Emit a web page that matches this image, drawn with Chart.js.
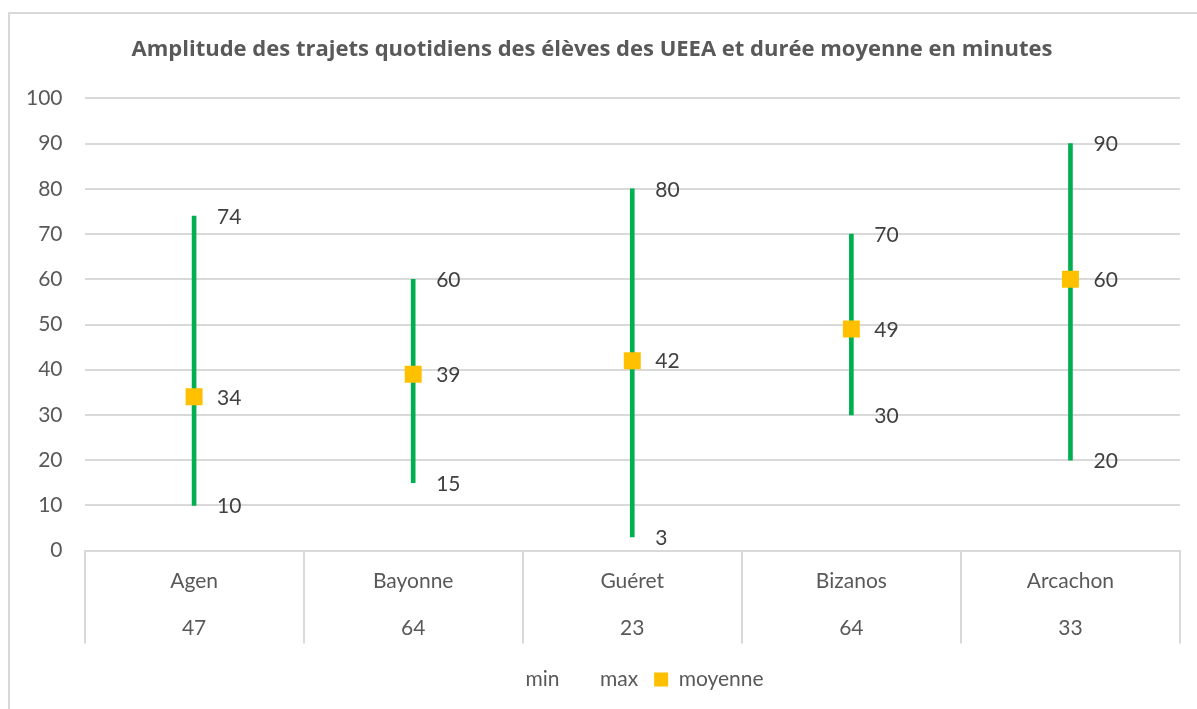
<!DOCTYPE html>
<html>
<head>
<meta charset="utf-8">
<script src="https://cdn.jsdelivr.net/npm/chart.js@4"></script>
<style>
  html, body { margin: 0; padding: 0; background: #fff; }
  .frame { position: absolute; left: 8px; top: 12px; width: 1189px; height: 697px;
           border-top: 2px solid #d9d9d9; border-left: 2px solid #d9d9d9; box-sizing: border-box; }
  .wrap { position: absolute; left: 0; top: 0; width: 1197px; height: 709px; }
</style>
</head>
<body>
<div class="frame"></div>
<div class="wrap"><canvas id="chart"></canvas></div>
<script>
const cities = ['Agen', 'Bayonne', 'Guéret', 'Bizanos', 'Arcachon'];
const counts = [47, 64, 23, 64, 33];
const mins = [10, 15, 3, 30, 20];
const maxs = [74, 60, 80, 70, 90];
const means = [34, 39, 42, 49, 60];

const FONT = 'Lato, "Noto Sans", sans-serif';
const textColor = '#595959', gridColor = '#d9d9d9';

// value labels to the right of each point
const valueLabels = {
  id: 'valueLabels',
  afterDatasetsDraw(chart) {
    const ctx = chart.ctx;
    ctx.save();
    ctx.font = '21px ' + FONT;
    ctx.fillStyle = '#404040';
    ctx.textAlign = 'left';
    ctx.textBaseline = 'middle';
    chart.data.datasets.forEach((ds, di) => {
      if (!ds.showValues) return;
      chart.getDatasetMeta(di).data.forEach((pt, i) => {
        ctx.fillText(ds.data[i], pt.x + 23, pt.y + 1);
      });
    });
    ctx.restore();
  }
};

// table-like separators under the category axis
const tableLines = {
  id: 'tableLines',
  afterDraw(chart) {
    const ctx = chart.ctx, xs = chart.scales.x, top = chart.chartArea.bottom;
    ctx.save();
    ctx.strokeStyle = gridColor;
    ctx.lineWidth = 2;
    for (let i = 0; i <= cities.length; i++) {
      const x = Math.round(xs.getPixelForValue(i - 0.5));
      ctx.beginPath();
      ctx.moveTo(x, top);
      ctx.lineTo(x, top + 93);
      ctx.stroke();
    }
    ctx.restore();
  }
};

new Chart(document.getElementById('chart'), {
  data: {
    labels: cities.map((c, i) => [c, String(counts[i])]),
    datasets: [
      { type: 'line', label: 'min', data: mins, showLine: false, pointRadius: 0, pointHoverRadius: 0,
        backgroundColor: 'rgba(0,0,0,0)', borderColor: 'rgba(0,0,0,0)', showValues: true, order: 1 },
      { type: 'line', label: 'max', data: maxs, showLine: false, pointRadius: 0, pointHoverRadius: 0,
        backgroundColor: 'rgba(0,0,0,0)', borderColor: 'rgba(0,0,0,0)', showValues: true, order: 1 },
      { type: 'line', label: 'moyenne', data: means, showLine: false, pointStyle: 'rect', pointRadius: 12,
        backgroundColor: '#ffc000', borderColor: '#ffc000', borderWidth: 0, showValues: true, order: 0 },
      { type: 'bar', label: 'range', data: mins.map((m, i) => [m, maxs[i]]), backgroundColor: '#00b050',
        barThickness: 4, order: 2 },
    ]
  },
  options: {
    responsive: true, maintainAspectRatio: false, animation: false,
    layout: { padding: { left: 4, right: 17, top: 14, bottom: 9 } },
    plugins: {
      title: { display: true, text: 'Amplitude des trajets quotidiens des élèves des UEEA et durée moyenne en minutes',
        color: textColor, font: { family: '"Open Sans", Lato, sans-serif', size: 22, weight: 'bold' }, padding: { top: 23, bottom: 35 } },
      legend: { position: 'bottom', fullSize: false,
        labels: { color: textColor, font: { family: FONT, size: 21 }, boxWidth: 14, boxHeight: 14, padding: 16,
          filter: item => item.text !== 'range', sort: (a, b) => a.datasetIndex - b.datasetIndex } },
      tooltip: { enabled: false }
    },
    scales: {
      x: {
        grid: { display: false, drawTicks: false },
        border: { color: gridColor, width: 2 },
        ticks: { color: textColor, font: { family: FONT, size: 21, lineHeight: 2.2 }, padding: 8, maxRotation: 0 },
        afterFit: s => { s.height -= 6; }
      },
      y: {
        min: 0, max: 100,
        grid: { color: gridColor, lineWidth: 2, drawTicks: false },
        border: { display: false },
        ticks: { stepSize: 10, color: textColor, font: { family: FONT, size: 21 }, padding: 22 }
      }
    }
  },
  plugins: [valueLabels, tableLines]
});
</script>
</body>
</html>
